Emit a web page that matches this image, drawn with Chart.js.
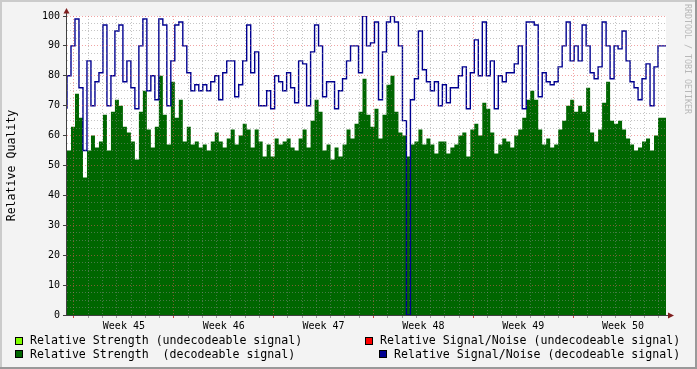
<!DOCTYPE html>
<html>
<head>
<meta charset="utf-8">
<script src="https://cdn.jsdelivr.net/npm/chart.js@4.4.0/dist/chart.umd.min.js"></script>
<style>
  html, body { margin: 0; padding: 0; background: #f3f3f3; }
  canvas { display: block; }
</style>
</head>
<body>
<canvas id="qualityChart" width="697" height="369"></canvas>
<script>
// time axis labels (one per week, centred mid-week)
const weekLabels = ['Week 45', 'Week 46', 'Week 47', 'Week 48', 'Week 49', 'Week 50'];
// labelled values on the y axis
const yLabels = [0, 10, 20, 30, 40, 50, 60, 70, 80, 90, 100];

// Relative Strength (decodeable signal), one sample every 4 px
const strength = [
  52, 55, 63, 74, 66, 46, 55, 60, 56, 58, 67, 55, 68, 72, 70, 63, 61, 58, 52, 68,
  75, 62, 56, 63, 80, 67, 57, 78, 66, 72, 58, 63, 57, 58, 56, 57, 55, 58, 61, 58,
  56, 59, 62, 57, 60, 64, 62, 56, 62, 58, 53, 57, 53, 59, 57, 58, 59, 56, 55, 59,
  62, 56, 65, 72, 68, 55, 57, 52, 56, 53, 57, 62, 59, 64, 68, 79, 67, 63, 69, 59,
  67, 77, 80, 68, 61, 60, 53, 57, 58, 62, 57, 59, 57, 54, 58, 58, 54, 56, 57, 60,
  61, 53, 62, 64, 60, 71, 69, 61, 54, 57, 59, 58, 56, 60, 62, 66, 72, 75, 72, 62,
  57, 59, 56, 57, 62, 65, 70, 72, 68, 70, 68, 76, 61, 58, 62, 71, 78, 65, 64, 65,
  62, 59, 57, 55, 56, 58, 59, 55, 60, 66
];

// Relative Signal/Noise (decodeable signal)
const signalNoise = [
  69, 80, 90, 99, 76, 55, 85, 70, 78, 81, 97, 70, 80, 95, 97, 78, 85, 76, 69, 90,
  99, 75, 80, 72, 99, 97, 70, 85, 97, 98, 90, 81, 75, 77, 75, 77, 75, 78, 80, 72,
  81, 85, 85, 73, 77, 85, 97, 81, 88, 70, 70, 75, 69, 80, 78, 75, 81, 76, 71, 85,
  84, 70, 88, 97, 90, 73, 78, 78, 69, 75, 79, 85, 90, 90, 81, 100, 90, 91, 98, 72,
  88, 98, 100, 98, 90, 65, 0, 72, 79, 95, 82, 78, 75, 78, 70, 77, 71, 76, 76, 80,
  83, 69, 81, 92, 80, 98, 80, 85, 69, 80, 78, 81, 81, 84, 90, 69, 98, 98, 97, 73,
  81, 78, 77, 78, 83, 90, 98, 85, 90, 85, 97, 90, 81, 79, 83, 98, 90, 79, 90, 89,
  95, 85, 78, 76, 72, 79, 84, 70, 83, 90
];

const legendLabels = [
  'Relative Strength (undecodeable signal)',
  'Relative Strength  (decodeable signal)',
  'Relative Signal/Noise (undecodeable signal)',
  'Relative Signal/Noise (decodeable signal)'
];
const legendColors = ['#80ff00', '#006600', '#ff0000', '#000090'];

// axis geometry in sample units (25 samples per week, first week starts 1.75 in)
const samplesPerWeek = 25;
const firstWeekStart = 1.75;
const yMinorStep = 2.5;

const FONT = '"DejaVu Sans Mono", monospace';
const GRID_MINOR = 'rgba(140,140,140,0.5)';
const GRID_MAJOR = 'rgba(230,90,90,0.55)';

function toSteps(values) {
    const pts = values.map((v, i) => ({ x: i, y: v }));
    pts.push({ x: values.length, y: values[values.length - 1] });
    return pts;
}

const rrdFrame = {
    id: 'rrdFrame',
    beforeDraw(chart) {
        const c = chart.ctx, a = chart.chartArea, w = chart.width, h = chart.height;
        c.save();
        c.fillStyle = '#f3f3f3';
        c.fillRect(0, 0, w, h);
        c.fillStyle = '#cbcbcb';
        c.fillRect(0, 0, w, 2);
        c.fillRect(0, 0, 2, h);
        c.fillStyle = '#999999';
        c.fillRect(w - 2, 0, 2, h);
        c.fillRect(0, h - 2, w, 2);
        c.fillStyle = '#ffffff';
        c.fillRect(a.left, a.top, a.right - a.left, a.bottom - a.top);
        c.restore();
    },
    afterDraw(chart) {
        const c = chart.ctx, a = chart.chartArea;
        c.save();
        // axes
        c.strokeStyle = '#404040';
        c.lineWidth = 1;
        c.beginPath();
        c.moveTo(a.left - 0.5, a.bottom + 0.5);
        c.lineTo(a.left - 0.5, a.top - 3);
        c.moveTo(a.left - 4, a.bottom + 0.5);
        c.lineTo(a.right + 3, a.bottom + 0.5);
        c.stroke();
        // arrows
        c.fillStyle = '#7f1f1f';
        c.beginPath();
        c.moveTo(a.left - 3.5, a.top - 2.5);
        c.lineTo(a.left + 2.5, a.top - 2.5);
        c.lineTo(a.left - 0.5, a.top - 8);
        c.closePath();
        c.fill();
        c.beginPath();
        c.moveTo(a.right + 2, a.bottom - 2.5);
        c.lineTo(a.right + 2, a.bottom + 3.5);
        c.lineTo(a.right + 8, a.bottom + 0.5);
        c.closePath();
        c.fill();

        // legend
        c.font = '11.6px ' + FONT;
        c.textBaseline = 'middle';
        c.textAlign = 'left';
        const rows = [
            { box: [15, 337], text: [30, 341] },
            { box: [15, 350], text: [30, 355] },
            { box: [365, 337], text: [380, 341] },
            { box: [379, 350], text: [394, 355] }
        ];
        rows.forEach((r, i) => {
            c.fillStyle = legendColors[i];
            c.fillRect(r.box[0], r.box[1], 8, 8);
            c.strokeStyle = '#000';
            c.strokeRect(r.box[0] + 0.5, r.box[1] + 0.5, 7, 7);
            c.fillStyle = '#000';
            c.fillText(legendLabels[i], r.text[0], r.text[1]);
        });

        // watermark
        c.translate(687, 4);
        c.rotate(Math.PI / 2);
        c.font = '8.3px ' + FONT;
        c.fillStyle = '#b8b8b8';
        c.textBaseline = 'middle';
        c.fillText('RRDTOOL / TOBI OETIKER', 0, 0);
        c.restore();
    }
};

const ctx = document.getElementById('qualityChart').getContext('2d');
new Chart(ctx, {
    type: 'line',
    data: {
        datasets: [{
            label: legendLabels[1],
            data: toSteps(strength),
            stepped: 'after',
            fill: 'origin',
            backgroundColor: legendColors[1],
            borderWidth: 0,
            pointRadius: 0,
            order: 2
        }, {
            label: legendLabels[3],
            data: toSteps(signalNoise),
            stepped: 'after',
            fill: false,
            borderColor: legendColors[3],
            borderWidth: 1.4,
            pointRadius: 0,
            order: 1
        }]
    },
    options: {
        responsive: false,
        animation: false,
        devicePixelRatio: 1,
        layout: { padding: { left: 0, top: 16, right: 31, bottom: 34 } },
        plugins: { legend: { display: false }, tooltip: { enabled: false } },
        scales: {
            x: {
                type: 'linear',
                min: 0,
                max: strength.length,
                afterBuildTicks: function(scale) {
                    const ticks = [];
                    const dayStep = samplesPerWeek / 7;
                    for (let k = 0; firstWeekStart + k * dayStep <= strength.length; k++) {
                        ticks.push({ value: firstWeekStart + k * dayStep, kind: k % 7 === 0 ? 'week' : 'day' });
                    }
                    weekLabels.forEach((lbl, w) => {
                        ticks.push({ value: firstWeekStart + samplesPerWeek * (w + 0.5), kind: 'label', lbl: lbl });
                    });
                    ticks.sort((p, q) => p.value - q.value);
                    scale.ticks = ticks;
                },
                afterFit: function(scale) { scale.height = 20; },
                grid: {
                    z: 1,
                    tickLength: 3,
                    color: c => c.tick.kind === 'week' ? GRID_MAJOR : (c.tick.kind === 'day' ? GRID_MINOR : 'transparent'),
                    tickColor: c => c.tick.kind === 'week' ? '#d04040' : (c.tick.kind === 'day' ? '#a0a0a0' : 'transparent')
                },
                border: { display: false, dash: [1, 2] },
                ticks: {
                    autoSkip: false,
                    maxRotation: 0,
                    padding: 2,
                    color: '#000',
                    font: { family: FONT, size: 10 },
                    callback: function(value, index, ticks) { return ticks[index].lbl || ''; }
                }
            },
            y: {
                min: 0,
                max: 100,
                afterBuildTicks: function(scale) {
                    const ticks = [];
                    for (let v = 0; v <= 100; v += yMinorStep) ticks.push({ value: v });
                    scale.ticks = ticks;
                },
                afterFit: function(scale) { scale.width = 67; },
                grid: {
                    z: 1,
                    tickLength: 4,
                    color: c => c.tick.value === 0 ? 'transparent' : (yLabels.includes(c.tick.value) ? GRID_MAJOR : GRID_MINOR),
                    tickColor: c => yLabels.includes(c.tick.value) ? '#404040' : 'transparent'
                },
                border: { display: false, dash: [1, 2] },
                title: {
                    display: true,
                    text: 'Relative Quality',
                    color: '#000',
                    font: { family: FONT, size: 11.6 },
                    padding: { top: 5, bottom: 0 }
                },
                ticks: {
                    autoSkip: false,
                    padding: 3,
                    color: '#000',
                    font: { family: FONT, size: 10 },
                    callback: function(value) { return yLabels.includes(value) ? String(value) : ''; }
                }
            }
        }
    },
    plugins: [rrdFrame]
});
</script>
</body>
</html>
